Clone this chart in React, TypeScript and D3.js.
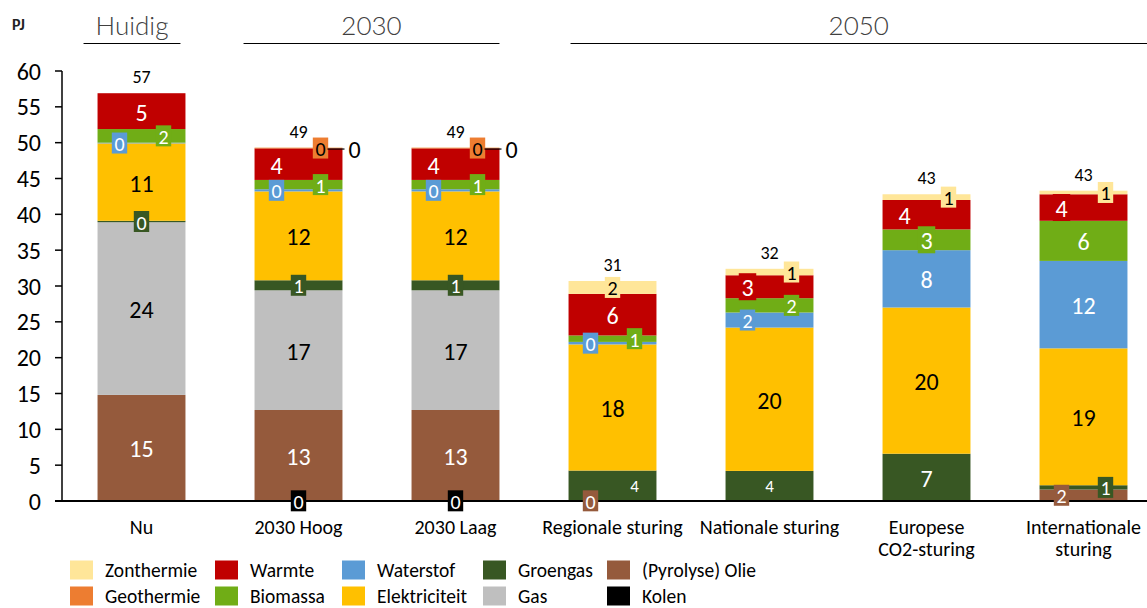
import React from "react";
import * as d3 from "d3";

const categories = ["Nu", "2030 Hoog", "2030 Laag", "Regionale sturing", "Nationale sturing", "Europese CO2-sturing", "Internationale sturing"];
const categoryLines = [["Nu"], ["2030 Hoog"], ["2030 Laag"], ["Regionale sturing"], ["Nationale sturing"], ["Europese", "CO2-sturing"], ["Internationale", "sturing"]];

const seriesNames = ["Kolen", "(Pyrolyse) Olie", "Gas", "Groengas", "Elektriciteit", "Waterstof", "Biomassa", "Warmte", "Geothermie", "Zonthermie"];

const kolen = [null, 0.05, 0.05, null, null, null, null];
const olie = [14.8, 12.65, 12.65, 0.05, null, null, 1.6];
const gas = [24.1, 16.7, 16.7, null, null, null, null];
const groengas = [0.2, 1.4, 1.4, 4.2, 4.2, 6.6, 0.6];
const elektriciteit = [10.8, 12.4, 12.4, 17.6, 20.0, 20.4, 19.1];
const waterstof = [0.1, 0.3, 0.3, 0.35, 2.1, 8.0, 12.2];
const biomassa = [1.9, 1.3, 1.3, 0.9, 2.0, 2.9, 5.6];
const warmte = [5.0, 4.4, 4.4, 5.8, 3.2, 4.1, 3.7];
const geothermie = [null, 0.1, 0.1, null, null, null, null];
const zonthermie = [null, 0.02, 0.02, 1.8, 0.9, 0.8, 0.5];

const seriesValues: (number | null)[][] = [kolen, olie, gas, groengas, elektriciteit, waterstof, biomassa, warmte, geothermie, zonthermie];

const colors: Record<string, string> = {
  "Zonthermie": "#FFE699",
  "Warmte": "#C00000",
  "Waterstof": "#5B9BD5",
  "Groengas": "#385723",
  "(Pyrolyse) Olie": "#955A3C",
  "Geothermie": "#ED7D31",
  "Biomassa": "#70AD16",
  "Elektriciteit": "#FFC000",
  "Gas": "#BFBFBF",
  "Kolen": "#000000",
};
const whiteText = new Set(["Warmte", "Waterstof", "Biomassa", "Groengas", "(Pyrolyse) Olie", "Kolen"]);

const legendRows = [
  ["Zonthermie", "Warmte", "Waterstof", "Groengas", "(Pyrolyse) Olie"],
  ["Geothermie", "Biomassa", "Elektriciteit", "Gas", "Kolen"],
];

const yTicks = [0, 5, 10, 15, 20, 25, 30, 35, 40, 45, 50, 55, 60];

const groups = [
  { label: "Huidig", first: 0, last: 0 },
  { label: "2030", first: 1, last: 2 },
  { label: "2050", first: 3, last: 6 },
];

// label layout (style only): side -1 = left, 1 = right
const labelSide: Record<string, number> = {
  "0|Waterstof": -1, "0|Biomassa": 1,
  "1|Waterstof": -1, "1|Biomassa": 1, "1|Warmte": -1, "1|Geothermie": 1,
  "2|Waterstof": -1, "2|Biomassa": 1, "2|Warmte": -1, "2|Geothermie": 1,
  "3|(Pyrolyse) Olie": -1, "3|Groengas": 1, "3|Waterstof": -1, "3|Biomassa": 1,
  "4|Waterstof": -1, "4|Biomassa": 1, "4|Warmte": -1, "4|Zonthermie": 1,
  "5|Warmte": -1, "5|Zonthermie": 1,
  "6|(Pyrolyse) Olie": -1, "6|Groengas": 1, "6|Warmte": -1, "6|Zonthermie": 1,
};
const labelSize: Record<string, number> = { "3|Groengas": 17, "4|Groengas": 17 };
const outsideLabel = new Set(["1|Zonthermie", "2|Zonthermie"]);

const FONT = "Carlito, Calibri, Lato, 'Open Sans', sans-serif";

export default function App() {
  const W = 1147, H = 608;
  const x = d3.scaleBand<string>().domain(categories).range([63, 1162]).paddingInner(0.44).paddingOuter(0.22);
  const y = d3.scaleLinear().domain([0, 60]).range([501, 71]);
  const bw = x.bandwidth();

  const table = categories.map((c, i) => {
    const row: any = { cat: c };
    seriesNames.forEach((s, k) => { row[s] = seriesValues[k][i] ?? 0; });
    return row;
  });
  const stacked = d3.stack<any>().keys(seriesNames)(table);
  const totals = categories.map((_, i) => d3.sum(seriesValues, (arr) => arr[i] ?? 0));

  const segs: React.ReactNode[] = [];
  const labels: React.ReactNode[] = [];
  stacked.forEach((layer, k) => {
    const s = seriesNames[k];
    layer.forEach((d, i) => {
      const v = seriesValues[k][i];
      if (v == null) return;
      const x0 = x(categories[i])!;
      const y0 = y(d[0]), y1 = y(d[1]);
      const h = y0 - y1;
      segs.push(<rect key={`r${k}-${i}`} x={x0} y={y1} width={bw} height={Math.max(h, 0)} fill={colors[s]} />);
      const key = `${i}|${s}`;
      const cx = x0 + bw / 2;
      const cy = (y0 + y1) / 2;
      const txt = String(Math.round(v));
      const col = whiteText.has(s) ? "#fff" : "#000";
      if (outsideLabel.has(key)) {
        labels.push(
          <g key={`l${k}-${i}`}>
            <line x1={cx + 29} x2={cx + 46} y1={y1 + 1.5} y2={y1 + 1.5} stroke="#000" strokeWidth={1.2} />
            <text x={cx + 56} y={y1 + 1.5} textAnchor="middle" dominantBaseline="central" fontSize={24} fill="#000">{txt}</text>
          </g>
        );
        return;
      }
      const fs = labelSize[key] ?? (h >= 20 ? 24 : 20);
      const lx = cx + (labelSide[key] ?? 0) * 22;
      const bh = fs >= 24 ? 27 : 21;
      const bwid = txt.length * fs * 0.52 + 5;
      labels.push(
        <g key={`l${k}-${i}`}>
          {bh > h && <rect x={lx - bwid / 2} y={cy - bh / 2} width={bwid} height={bh} fill={colors[s]} />}
          <text x={lx} y={cy + 1} textAnchor="middle" dominantBaseline="central" fontSize={fs} fill={col}>{txt}</text>
        </g>
      );
    });
  });

  const headerPad = [{ l: -14, r: -5 }, { l: -11, r: 0 }, { l: 2, r: 40 }];

  return (
    <svg width={W} height={H} style={{ position: "absolute", left: 0, top: 0, fontFamily: FONT }}>
      <rect width={W} height={H} fill="#fff" />
      <text x={12} y={30} fontSize={16} fontWeight={600} fill="#222">PJ</text>
      {groups.map((g, gi) => {
        const x1 = x(categories[g.first])! + headerPad[gi].l;
        const x2 = Math.min(x(categories[g.last])! + bw + headerPad[gi].r, W);
        const mid = (x1 + x2) / 2;
        return (
          <g key={g.label}>
            <text x={mid} y={35} textAnchor="middle" fontSize={26} fontWeight={300} fill="#404040" style={{ fontFamily: "Lato, 'Open Sans', sans-serif" }}>{g.label}</text>
            <line x1={x1} x2={x2} y1={43.5} y2={43.5} stroke="#000" strokeWidth={1.2} />
          </g>
        );
      })}
      {segs}
      {/* y axis */}
      <line x1={62} x2={62} y1={y(60)} y2={y(0)} stroke="#000" strokeWidth={1.5} />
      {yTicks.map((t) => (
        <g key={t}>
          <line x1={55} x2={62} y1={y(t)} y2={y(t)} stroke="#000" strokeWidth={1.5} />
          <text x={41} y={y(t)} textAnchor="end" dominantBaseline="central" fontSize={24} fill="#000">{t}</text>
        </g>
      ))}
      <line x1={55} x2={W} y1={y(0)} y2={y(0)} stroke="#000" strokeWidth={2} />
      {labels}
      {totals.map((t, i) => (
        <text key={`t${i}`} x={x(categories[i])! + bw / 2} y={y(t) - 10} textAnchor="middle" fontSize={18} fill="#000">{Math.round(t)}</text>
      ))}
      {categoryLines.map((lines, i) => (
        <text key={`c${i}`} x={x(categories[i])! + bw / 2} y={534} textAnchor="middle" fontSize={20} fill="#000">
          {lines.map((ln, j) => (
            <tspan key={j} x={x(categories[i])! + bw / 2} dy={j === 0 ? 0 : 22}>{ln}</tspan>
          ))}
        </text>
      ))}
      {legendRows.map((row, r) =>
        row.map((s, c) => {
          const lx = [70, 215, 342, 483, 607][c];
          const ly = 570 + r * 26;
          return (
            <g key={s}>
              <rect x={lx} y={ly - 9.5} width={23} height={19} fill={colors[s]} />
              <text x={lx + 35} y={ly} dominantBaseline="central" fontSize={19.5} fill="#000">{s}</text>
            </g>
          );
        })
      )}
    </svg>
  );
}
